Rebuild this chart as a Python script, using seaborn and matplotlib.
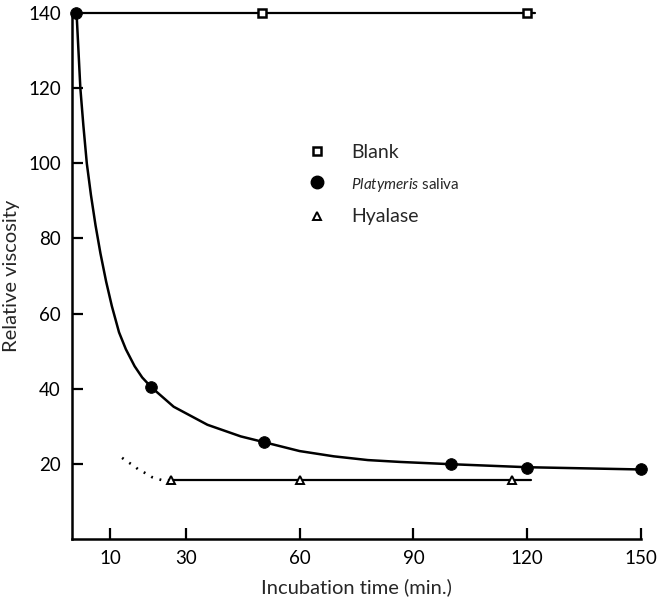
import matplotlib
matplotlib.use("Agg")
import matplotlib.pyplot as plt
import seaborn as sns
import pandas as pd
from matplotlib.lines import Line2D

## data
blank_time = [50, 120]
blank_visc = [140, 140]
blank_line_time = [0, 122]
blank_line_visc = [140, 140]

saliva_time = [1, 20.8, 50.5, 100, 120, 150]
saliva_visc = [140, 40.5, 25.8, 20, 19, 18.6]
# fitted curve
curve_time = [1.2, 1.7, 2.2, 3.0, 3.9, 5.0, 6.2, 7.5, 9.0, 10.5, 12.4, 14.2, 16.5, 18.5, 20.9,
              26.8, 35.7, 44.5, 50.5, 60, 69, 78, 86.6, 100, 120, 150]
curve_visc = [140, 130, 120, 110, 100, 91.5, 83.5, 76, 68.5, 62, 55, 50.5, 46, 43, 40.4,
              35.2, 30.4, 27.3, 25.8, 23.4, 22.0, 21.0, 20.5, 19.9, 19.1, 18.5]

hyal_time = [26, 60, 116]
hyal_visc = [15.7, 15.7, 15.7]
hyal_line_time = [26, 121]
hyal_line_visc = [15.7, 15.7]
hyal_dot_time = [13.2, 14.7, 16.3, 17.6, 19.2, 21, 22.6, 24.2, 26]
hyal_dot_visc = [21.6, 20.5, 19.5, 18.4, 17.6, 16.5, 16, 15.5, 15.7]

x_ticks = [10, 30, 60, 90, 120, 150]
y_ticks = [20, 40, 60, 80, 100, 120, 140]

sns.set_style("ticks")
plt.rcParams['font.family'] = ['Lato', 'DejaVu Sans']
plt.rcParams['mathtext.fontset'] = 'custom'
plt.rcParams['mathtext.it'] = 'Lato:italic'
plt.rcParams['mathtext.rm'] = 'Lato'

fig = plt.figure(figsize=(6.57, 5.97), dpi=100)
ax = fig.add_axes([0.1096, 0.0972, 0.866, 0.881])

curve = pd.DataFrame({'t': curve_time, 'v': curve_visc})
sns.lineplot(data=curve, x='t', y='v', ax=ax, color='black', lw=1.8, sort=False, clip_on=False)

ax.plot(blank_line_time, blank_line_visc, color='black', lw=1.6, clip_on=False)
ax.plot(hyal_line_time, hyal_line_visc, color='black', lw=1.6, clip_on=False)
ax.plot(hyal_dot_time, hyal_dot_visc, color='black', lw=1.9, ls=(0, (0.7, 2.6)), clip_on=False)

sns.scatterplot(x=saliva_time, y=saliva_visc, ax=ax, color='black', s=70, marker='o',
                edgecolor='black', zorder=5, clip_on=False)
ax.plot(blank_time, blank_visc, ls='none', marker='s', ms=5.5, mfc='white', mec='black',
        mew=1.8, zorder=5, clip_on=False)
ax.plot(hyal_time, hyal_visc, ls='none', marker='^', ms=6, mfc='white', mec='black',
        mew=1.4, zorder=5, clip_on=False)

ax.set_xlim(0, 150)
ax.set_ylim(0, 140)
ax.set_xticks(x_ticks)
ax.set_yticks(y_ticks)
ax.tick_params(direction='in', length=8, width=1.6, labelsize=13.5, pad=8, colors='black')
for side in ['left', 'bottom']:
    ax.spines[side].set_linewidth(1.8)
    ax.spines[side].set_color('black')
sns.despine(ax=ax)
ax.set_xlabel("Incubation time (min.)", fontsize=14.5, labelpad=8)
ax.set_ylabel("Relative viscosity", fontsize=14.5, labelpad=6)

handles = [
    Line2D([], [], ls='none', marker='s', ms=5.5, mfc='white', mec='black', mew=1.8),
    Line2D([], [], ls='none', marker='o', ms=9, color='black'),
    Line2D([], [], ls='none', marker='^', ms=6, mfc='white', mec='black', mew=1.4),
]
labels = ["Blank", r"$\it{Platymeris}$ saliva", "Hyalase"]
leg = ax.legend(handles, labels, frameon=False, loc='upper left',
                bbox_to_anchor=(0.38, 0.785), handlelength=1.2, handletextpad=1.15,
                labelspacing=0.75, fontsize=14)
leg.get_texts()[1].set_fontsize(11)

fig.savefig("out.png", dpi=100)
